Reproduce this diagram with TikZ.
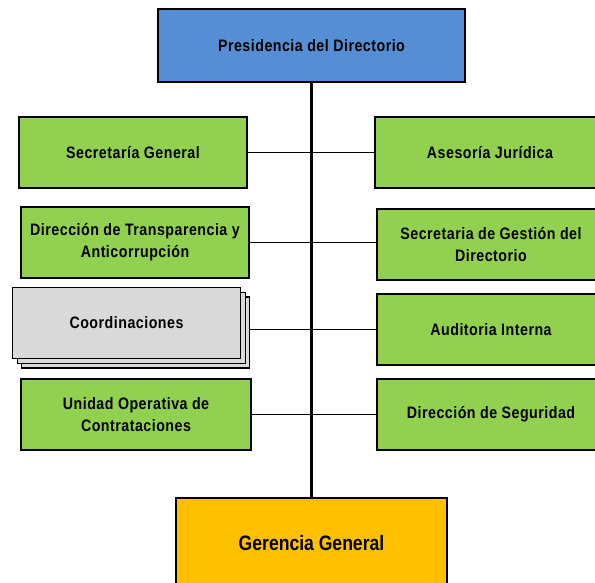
\documentclass[tikz,border=0pt]{standalone}
\usepackage{fontspec}
\setmainfont{Liberation Sans}[FakeStretch=0.86, LetterSpace=3]
\newfontfamily\bigfont{Liberation Sans}[FakeStretch=0.84]
\usetikzlibrary{backgrounds}

\definecolor{headblue}{HTML}{558ED5}
\definecolor{officegreen}{HTML}{92D050}
\definecolor{groupgray}{HTML}{D9D9D9}
\definecolor{manageryellow}{HTML}{FFC000}

\begin{document}
\begin{tikzpicture}[
    x=1bp, y=-1bp,
    unit/.style={rectangle, draw, line width=1.9bp, minimum width=228bp, minimum height=71bp, align=center, inner sep=2bp, font=\bfseries\fontsize{16.6}{22}\selectfont},
    head/.style={unit, fill=headblue, minimum width=307bp, minimum height=73bp},
    office/.style={unit, fill=officegreen},
    group/.style={unit, fill=groupgray},
    manager/.style={unit, fill=manageryellow, minimum width=271bp, minimum height=90bp, font=\bigfont\bfseries\fontsize{21}{25}\selectfont},
    trunk/.style={line width=3.8bp},
    branch/.style={line width=1.2bp}
]
\useasboundingbox (0,0) rectangle (595,583);
\clip (0,0) rectangle (595,583);

% Top and bottom
\node[head] (presidencia) at (311.5,45.5) {Presidencia del Directorio};
\node[manager] (gerencia) at (311.5,543) {Gerencia General};

% Left column
\node[office] (secgeneral) at (133,152.5) {Secretaría General};
\node[office] (transparencia) at (135,242.5) {Dirección de Transparencia y\\Anticorrupción};
\node[group] (coordback2) at (135.5,332.5) {};
\node[group] (coordback1) at (131.5,328) {};
\node[group] (coordinaciones) at (126.5,323) {Coordinaciones};
\node[office, minimum width=230bp] (unidad) at (136,414.5) {Unidad Operativa de\\Contrataciones};

% Right column
\node[office, minimum width=230bp] (asesoria) at (490,152.5) {Asesoría Jurídica};
\node[office] (secgestion) at (491,244.5) {Secretaria de Gestión del\\Directorio};
\node[office] (auditoria) at (491,329.5) {Auditoria Interna};
\node[office] (seguridad) at (491,414.5) {Dirección de Seguridad};

% Lines
\begin{pgfonlayer}{background}
\draw[trunk] (presidencia.south) -- (gerencia.north);
\draw[branch] (secgeneral.east) -- (asesoria.west);
\draw[branch] (transparencia.east) -- (secgestion.west |- transparencia.east);
\draw[branch] (auditoria.west) -- (auditoria.west -| coordback2.east);
\draw[branch] (unidad.east) -- (seguridad.west);
\end{pgfonlayer}

\end{tikzpicture}
\end{document}
